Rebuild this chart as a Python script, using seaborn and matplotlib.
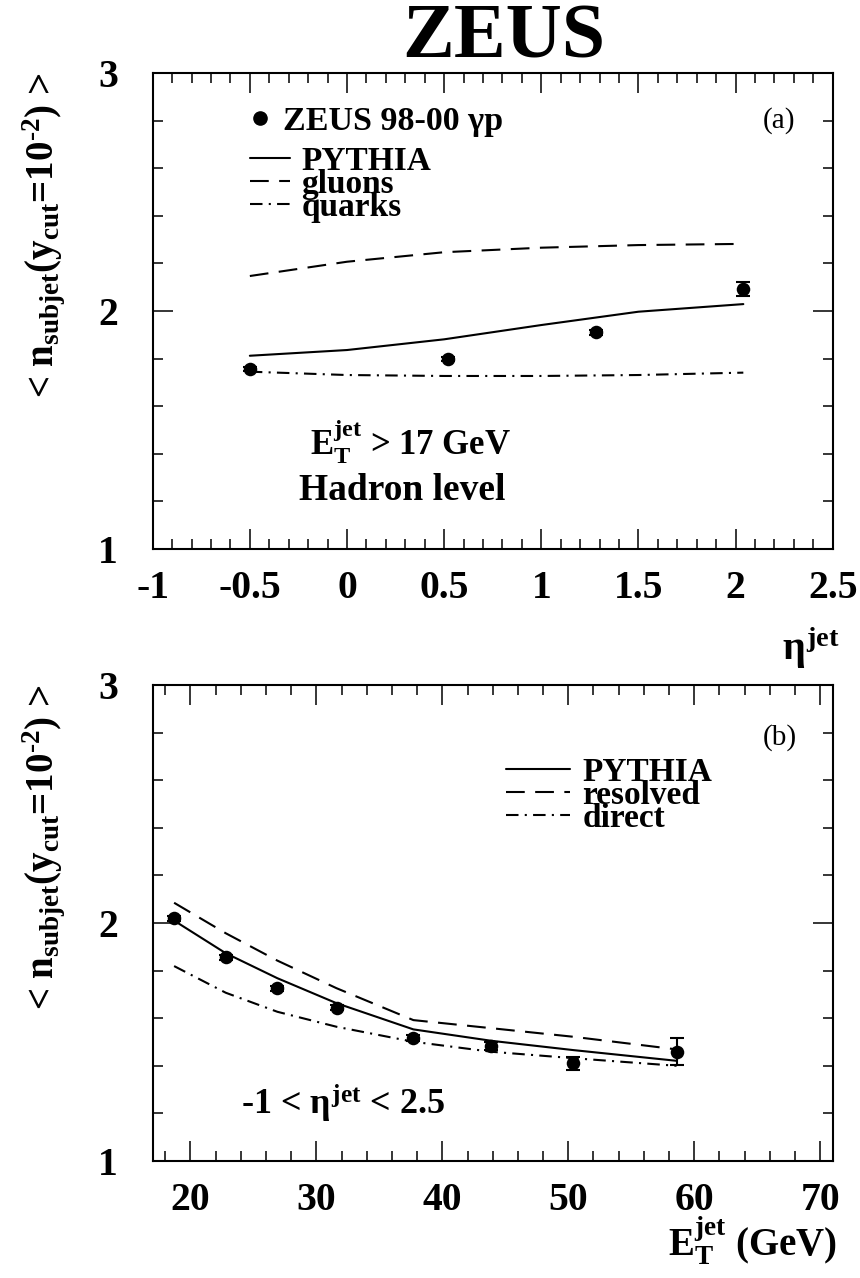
import seaborn as sns
from matplotlib import pyplot as plt
from matplotlib.lines import Line2D
from matplotlib.ticker import MultipleLocator, FuncFormatter

###############################################################################
# Values

# (a) mean number of subjets vs eta^jet
eta_data = [-0.5, 0.52, 1.28, 2.04]
nsub_eta = [1.756, 1.798, 1.910, 2.091]
nsub_eta_err = [0.01, 0.01, 0.012, 0.03]

eta_mc = [-0.5, 0.0, 0.5, 1.0, 1.5, 2.04]
pythia_eta = [1.812, 1.836, 1.881, 1.941, 1.997, 2.029]
gluons_eta = [2.147, 2.207, 2.247, 2.266, 2.277, 2.282]
quarks_eta = [1.745, 1.731, 1.727, 1.727, 1.731, 1.741]

# (b) mean number of subjets vs E_T^jet
et_data = [18.7, 22.8, 26.9, 31.6, 37.7, 43.9, 50.4, 58.6]
nsub_et = [2.020, 1.856, 1.726, 1.644, 1.516, 1.483, 1.410, 1.459]
nsub_et_err = [0.01, 0.01, 0.01, 0.01, 0.012, 0.015, 0.026, 0.057]

pythia_et = [2.010, 1.873, 1.768, 1.663, 1.553, 1.505, 1.466, 1.421]
resolved_et = [2.085, 1.957, 1.842, 1.726, 1.592, 1.558, 1.522, 1.469]
direct_et = [1.819, 1.707, 1.627, 1.564, 1.501, 1.459, 1.432, 1.400]

###############################################################################
sns.set_style("ticks")
plt.rcParams.update({
    "font.family": ["Liberation Serif", "DejaVu Serif"],
    "font.weight": "bold",
    "axes.labelweight": "bold",
    "text.color": "black",
    "axes.labelcolor": "black",
    "xtick.color": "black",
    "ytick.color": "black",
    "mathtext.fontset": "custom",
    "mathtext.rm": "Liberation Serif:bold",
    "mathtext.it": "Liberation Serif:bold",
    "mathtext.bf": "Liberation Serif:bold",
    "axes.unicode_minus": False,
    "axes.linewidth": 1.5,
    "axes.edgecolor": "black",
})

DASHED = (0, (9, 5))
DASHDOT = (0, (6, 3, 1, 3))

W, H = 860, 1278
fig = plt.figure(figsize=(W / 100, H / 100), dpi=100)
ax1 = fig.add_axes([152.7 / W, 1 - 549 / H, 680 / W, 476 / H])
ax2 = fig.add_axes([152.7 / W, 1 - 1161 / H, 680 / W, 476 / H])

fmt = FuncFormatter(lambda v, p: f"{v:g}")


def style_axes(ax, xmaj, xmin):
    ax.xaxis.set_major_locator(MultipleLocator(xmaj))
    ax.xaxis.set_minor_locator(MultipleLocator(xmin))
    ax.yaxis.set_major_locator(MultipleLocator(1))
    ax.yaxis.set_minor_locator(MultipleLocator(0.2))
    ax.xaxis.set_major_formatter(fmt)
    ax.yaxis.set_major_formatter(fmt)
    ax.tick_params(which="both", direction="in", top=True, right=True,
                   width=1.1, colors="black", labelsize=28.5)
    ax.tick_params(which="major", length=14.4)
    ax.tick_params(which="minor", length=7.2)
    ax.tick_params(axis="x", pad=15)
    ax.tick_params(axis="y", pad=25)
    ax.set_ylim(1, 3)
    ax.set_ylabel(r"< n$_{subjet}$(y$_{cut}$=10$^{\text{-}2}$) >",
                  fontsize=28, loc="top")
    ax.yaxis.set_label_coords(-0.126, 1.0)


def mc_line(ax, x, y, ls):
    sns.lineplot(x=x, y=y, ax=ax, color="black", linewidth=1.5,
                 linestyle=ls, estimator=None, sort=False)


def data_points(ax, x, y, err):
    ax.errorbar(x, y, yerr=err, fmt="none", ecolor="black",
                elinewidth=1.5, capsize=5, capthick=1.5, zorder=3)
    sns.scatterplot(x=x, y=y, ax=ax, color="black", s=95, linewidth=0,
                    zorder=4)


###############################################################################
# Panel (a)
mc_line(ax1, eta_mc, pythia_eta, "-")
mc_line(ax1, eta_mc, gluons_eta, DASHED)
mc_line(ax1, eta_mc, quarks_eta, DASHDOT)
data_points(ax1, eta_data, nsub_eta, nsub_eta_err)
ax1.set_xlim(-1, 2.5)
style_axes(ax1, 0.5, 0.1)
ax1.set_xlabel(r"$\eta^{jet}$", fontsize=29, loc="right")
ax1.xaxis.set_label_coords(1.011, -0.16)

prop_big = {"family": "Liberation Serif", "weight": "bold", "size": 24}
leg_data = ax1.legend(
    handles=[Line2D([], [], ls="none", marker="o", color="black", ms=9.5)],
    labels=["ZEUS 98-00 \u03b3p"], loc="upper left",
    bbox_to_anchor=(0.143, 0.93), frameon=False, borderpad=0,
    borderaxespad=0, handlelength=0.6, handletextpad=0.36,
    prop={"family": "Liberation Serif", "weight": "bold", "size": 24.5})
ax1.add_artist(leg_data)
ax1.legend(
    handles=[Line2D([], [], color="black", lw=1.5, ls="-"),
             Line2D([], [], color="black", lw=1.5, ls=DASHED),
             Line2D([], [], color="black", lw=1.5, ls=DASHDOT)],
    labels=["PYTHIA", "gluons", "quarks"], loc="upper left",
    bbox_to_anchor=(0.143, 0.847), frameon=False, borderpad=0,
    borderaxespad=0, handlelength=1.2, handletextpad=0.35,
    labelspacing=-0.24, prop=prop_big)

ax1.text(0.921, 0.901, "(a)", transform=ax1.transAxes, ha="center",
         va="center", fontsize=21, fontweight="normal")
ax1.text(0.231, 0.197, r"E$_T^{jet}$ > 17 GeV", transform=ax1.transAxes,
         ha="left", va="baseline", fontsize=25)
ax1.text(0.215, 0.103, "Hadron level", transform=ax1.transAxes,
         ha="left", va="baseline", fontsize=27)

###############################################################################
# Panel (b)
mc_line(ax2, et_data, pythia_et, "-")
mc_line(ax2, et_data, resolved_et, DASHED)
mc_line(ax2, et_data, direct_et, DASHDOT)
data_points(ax2, et_data, nsub_et, nsub_et_err)
ax2.set_xlim(17, 71)
style_axes(ax2, 10, 2)
ax2.set_xlabel(r"E$_T^{jet}$ (GeV)", fontsize=28, loc="right")
ax2.xaxis.set_label_coords(1.006, -0.112)

ax2.legend(
    handles=[Line2D([], [], color="black", lw=1.5, ls="-"),
             Line2D([], [], color="black", lw=1.5, ls=DASHED),
             Line2D([], [], color="black", lw=1.5, ls=DASHDOT)],
    labels=["PYTHIA", "resolved", "direct"], loc="upper left",
    bbox_to_anchor=(0.52, 0.849), frameon=False, borderpad=0,
    borderaxespad=0, handlelength=1.9, handletextpad=0.38,
    labelspacing=-0.24, prop=prop_big)

ax2.text(0.922, 0.889, "(b)", transform=ax2.transAxes, ha="center",
         va="center", fontsize=21, fontweight="normal")
ax2.text(0.13, 0.097, r"-1 < $\eta^{jet}$ < 2.5", transform=ax2.transAxes,
         ha="left", va="baseline", fontsize=26)

fig.text(504 / W, 1 - 57 / H, "ZEUS", ha="center", va="baseline",
         fontsize=56, fontweight="bold")

fig.savefig("out.png", dpi=100)
